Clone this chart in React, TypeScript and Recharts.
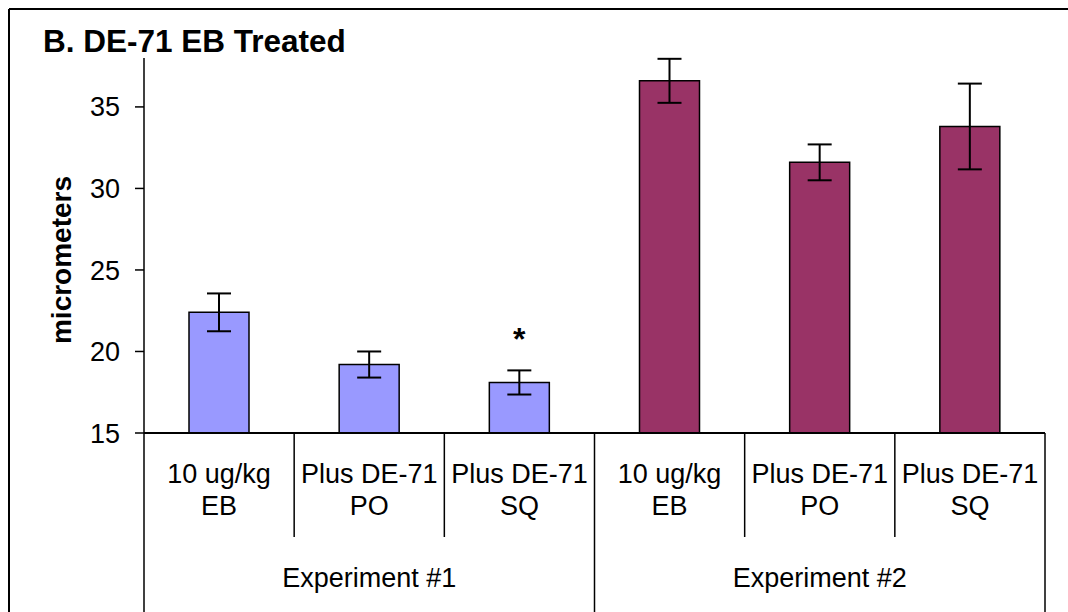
import React from 'react';
import { BarChart, Bar, XAxis, YAxis, ErrorBar, Cell, LabelList } from 'recharts';

// category labels (two lines each) and their experiment group
const categoryLines = [
    ['10 ug/kg', 'EB'],
    ['Plus DE-71', 'PO'],
    ['Plus DE-71', 'SQ'],
    ['10 ug/kg', 'EB'],
    ['Plus DE-71', 'PO'],
    ['Plus DE-71', 'SQ'],
];
const experiments = ['Experiment #1', 'Experiment #1', 'Experiment #1', 'Experiment #2', 'Experiment #2', 'Experiment #2'];
const means = [22.4, 19.2, 18.1, 36.6, 31.6, 33.8];
const errors = [1.16, 0.8, 0.74, 1.35, 1.1, 2.63];
const significance = ['', '', '*', '', '', ''];
const yTicks = [15, 20, 25, 30, 35];

const GROUP_COLORS: Record<string, string> = {
    'Experiment #1': '#9999FF',
    'Experiment #2': '#993366',
};

const W = 1068;
const H = 612;
const X_AXIS_H = 179;
const MARGIN = { top: 58, right: 23, bottom: 0, left: 0 };
const Y_AXIS_W = 144;
const AXIS_Y = H - X_AXIS_H;
const BAND = (W - MARGIN.right - Y_AXIS_W) / categoryLines.length;
const FONT = '"Liberation Sans", Arial, sans-serif';

const data = categoryLines.map((lines, i) => ({
    name: lines.join(' '),
    lines,
    experiment: experiments[i],
    mean: means[i],
    err: errors[i],
    sig: significance[i],
}));

// multi-level category tick: two text lines, separators and group label
// eslint-disable-next-line @typescript-eslint/no-explicit-any
const CategoryTick = (props: any) => {
    const { x, index } = props;
    const row = data[index];
    if (!row) return null;
    const left = x - BAND / 2;
    const groupStart = index % 3 === 0;
    return (
        <g>
            <line x1={left} x2={left} y1={AXIS_Y} y2={groupStart ? H : 537} stroke="#000" strokeWidth={1.5} />
            {index === data.length - 1 && (
                <line x1={x + BAND / 2} x2={x + BAND / 2} y1={AXIS_Y} y2={H} stroke="#000" strokeWidth={1.5} />
            )}
            <text x={x} y={483} textAnchor="middle" fontSize={27} fontFamily={FONT} fill="#000">{row.lines[0]}</text>
            <text x={x} y={515} textAnchor="middle" fontSize={27} fontFamily={FONT} fill="#000">{row.lines[1]}</text>
            {groupStart && (
                <text x={x + BAND} y={587} textAnchor="middle" fontSize={27} fontFamily={FONT} fill="#000">{row.experiment}</text>
            )}
        </g>
    );
};

// eslint-disable-next-line @typescript-eslint/no-explicit-any
const SigLabel = (props: any) => {
    const { x, y, width, value } = props;
    if (!value) return null;
    return (
        <text x={x + width / 2} y={y - 32} textAnchor="middle" fontSize={32} fontWeight="bold" fontFamily={FONT} fill="#000">
            {value}
        </text>
    );
};

export default function App() {
    return (
        <div style={{ position: 'fixed', left: 0, top: 0, width: W, height: H, overflow: 'hidden', background: '#fff', fontFamily: FONT }}>
            <style>{'html, body { margin: 0; overflow: hidden; }'}</style>
            <div style={{ position: 'absolute', left: 0, top: 0 }}>
                <BarChart width={W} height={H} data={data} margin={MARGIN}>
                    <XAxis
                        dataKey="name"
                        interval={0}
                        height={X_AXIS_H}
                        tickLine={false}
                        axisLine={{ stroke: '#000', strokeWidth: 2 }}
                        tick={<CategoryTick />}
                    />
                    <YAxis
                        domain={[15, 38]}
                        ticks={yTicks}
                        width={Y_AXIS_W}
                        tickSize={9}
                        tickMargin={15}
                        axisLine={{ stroke: '#000', strokeWidth: 1.5 }}
                        tickLine={{ stroke: '#000', strokeWidth: 1.5 }}
                        tick={{ fill: '#000', fontSize: 27, fontFamily: FONT }}
                        allowDataOverflow
                    />
                    <Bar dataKey="mean" barSize={60} stroke="#000" strokeWidth={1.5} isAnimationActive={false}>
                        {data.map((d, i) => (
                            <Cell key={`cell-${i}`} fill={GROUP_COLORS[d.experiment]} />
                        ))}
                        <ErrorBar dataKey="err" width={12} strokeWidth={2} stroke="#000" direction="y" />
                        <LabelList dataKey="sig" content={<SigLabel />} />
                    </Bar>
                </BarChart>
            </div>
            <svg width={W} height={H} style={{ position: 'absolute', left: 0, top: 0, pointerEvents: 'none' }}>
                {/* keep the right edge blank; only the frame's left and top edges are in view */}
                <rect x={1052} y={0} width={W - 1052} height={H} fill="#fff" />
                <line x1={9} x2={W} y1={9} y2={9} stroke="#000" strokeWidth={2} />
                <line x1={9} x2={9} y1={9} y2={H} stroke="#000" strokeWidth={2} />
                <text x={43} y={52} fontSize={31.5} fontWeight="bold" fontFamily={FONT} fill="#000">B. DE-71 EB Treated</text>
                <text
                    x={0}
                    y={0}
                    transform="translate(71, 260) rotate(-90)"
                    textAnchor="middle"
                    fontSize={28}
                    fontWeight="bold"
                    fontFamily={FONT}
                    fill="#000"
                >
                    micrometers
                </text>
            </svg>
        </div>
    );
}
